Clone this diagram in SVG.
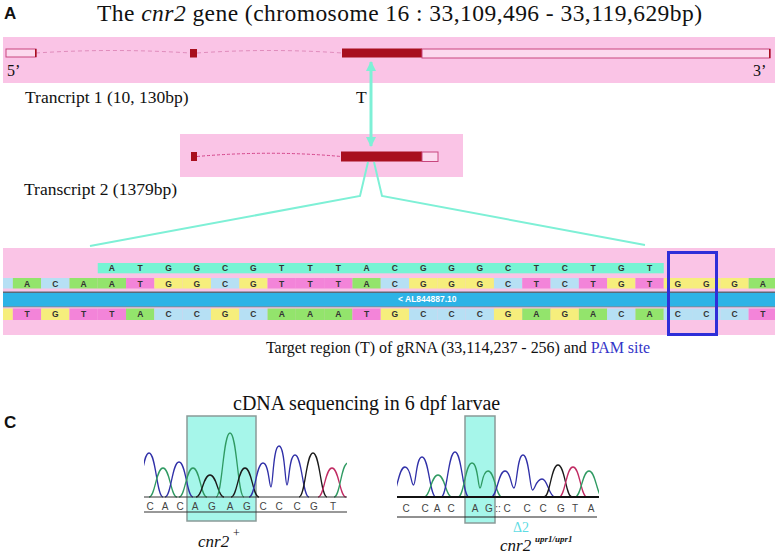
<svg xmlns="http://www.w3.org/2000/svg" width="777" height="556" viewBox="0 0 777 556">
<style>
.serif{font-family:"Liberation Serif","Times New Roman",serif;fill:#111}
.lbl{font-family:"Liberation Sans",Arial,sans-serif;font-weight:bold;fill:#111}
.band{fill:#fac4e6}
.ex{fill:#a80f1e}
.utr{fill:#fcd9ee;stroke:#c8467e;stroke-width:1}
.intr{fill:none;stroke:#e08cbc;stroke-width:1;stroke-dasharray:4 3}
.A{fill:#93e46c}.C{fill:#b6e0f4}.G{fill:#f6ee7c}.T{fill:#f384d9}.R{fill:#76f4d4}
.b{font-family:"Liberation Sans",Arial,sans-serif;font-weight:bold;font-size:8.5px;fill:#333;text-anchor:middle}
.bl{fill:none;stroke:#3030a8;stroke-width:1.3}
.gr{fill:none;stroke:#2f9a62;stroke-width:1.3}
.bk{fill:none;stroke:#1a1a1a;stroke-width:1.3}
.rd{fill:none;stroke:#c02a62;stroke-width:1.3}
.sq{font-family:"Liberation Sans",Arial,sans-serif;font-size:10px;fill:#444;text-anchor:middle}
.cn{stroke:#7ef0d6;fill:none}
</style>
<defs>
<marker id="ah" viewBox="0 0 10 10" refX="9" refY="5" markerWidth="3.5" markerHeight="3.5" orient="auto-start-reverse"><path d="M0,0 L10,5 L0,10 z" fill="#7ef0d6"/></marker>
<clipPath id="clL"><rect x="144" y="400" width="203" height="100"/></clipPath>
<clipPath id="clR"><rect x="397" y="400" width="202" height="100"/></clipPath>
</defs>

<g id="title">
<text class="lbl" x="4" y="19" font-size="17">A</text>
<text class="serif" x="97" y="21" font-size="23.5" textLength="605">The <tspan font-style="italic">cnr2</tspan> gene (chromosome 16 : 33,109,496 - 33,119,629bp)</text>
</g>

<g id="transcript1">
<rect class="band" x="3" y="37" width="772" height="46"/>
<path class="intr" d="M36,53 Q113,48 190,53"/>
<path class="intr" d="M197,53 Q270,48 342,53"/>
<rect class="utr" x="6" y="49" width="30" height="8"/>
<rect class="ex" x="35" y="49" width="1.5" height="8"/>
<rect class="ex" x="190" y="49" width="7" height="8.5"/>
<rect class="ex" x="342" y="48.5" width="80" height="9"/>
<rect class="utr" x="422" y="49" width="348" height="9"/>
<rect class="ex" x="769" y="49" width="1.5" height="9"/>
<text class="serif" x="7" y="76" font-size="16">5’</text>
<text class="serif" x="753" y="76" font-size="16">3’</text>
<text class="serif" x="25" y="103" font-size="17.5">Trancript 1 (10, 130bp)</text>
<text class="serif" x="356" y="103" font-size="17.5">T</text>
</g>

<g id="transcript2">
<rect class="band" x="180" y="134" width="283" height="43"/>
<path fill="none" stroke="#d4458a" stroke-width="1" stroke-dasharray="3 2" d="M197,156.5 Q270,150 341,156.5"/>
<rect class="ex" x="191" y="152" width="6" height="9"/>
<rect class="ex" x="341" y="151.5" width="81" height="10"/>
<rect class="utr" x="422" y="152" width="16" height="9.5"/>
<text class="serif" x="24" y="195" font-size="17.5">Transcript 2 (1379bp)</text>
</g>

<g id="connectors">
<line class="cn" x1="371" y1="146" x2="371" y2="62" stroke-width="3" marker-end="url(#ah)" marker-start="url(#ah)"/>
<polyline class="cn" stroke-width="2" points="368,162 360,196 90,246"/>
<polyline class="cn" stroke-width="2" points="374,162 382,196 645,245"/>
</g>

<g id="sequence">
<rect class="band" x="3" y="248" width="772" height="87"/>
<rect class="R" x="97.75" y="263" width="566" height="10.3"/>
<g>
<text class="b" x="111.9" y="271.3">A</text><text class="b" x="140.2" y="271.3">T</text><text class="b" x="168.5" y="271.3">G</text><text class="b" x="196.8" y="271.3">G</text><text class="b" x="225.1" y="271.3">C</text><text class="b" x="253.4" y="271.3">G</text><text class="b" x="281.7" y="271.3">T</text><text class="b" x="310" y="271.3">T</text><text class="b" x="338.3" y="271.3">T</text><text class="b" x="366.6" y="271.3">A</text><text class="b" x="394.9" y="271.3">C</text><text class="b" x="423.2" y="271.3">G</text><text class="b" x="451.5" y="271.3">G</text><text class="b" x="479.8" y="271.3">G</text><text class="b" x="508.1" y="271.3">C</text><text class="b" x="536.4" y="271.3">T</text><text class="b" x="564.7" y="271.3">C</text><text class="b" x="593" y="271.3">T</text><text class="b" x="621.3" y="271.3">G</text><text class="b" x="649.6" y="271.3">T</text>
</g>
<g id="row2">
<rect class="C" x="3" y="278" width="9.85" height="10.5"/>
<rect class="A" x="12.85" y="278" width="28.3" height="10.5"/><rect class="C" x="41.15" y="278" width="28.3" height="10.5"/><rect class="A" x="69.45" y="278" width="28.3" height="10.5"/><rect class="A" x="97.75" y="278" width="28.3" height="10.5"/><rect class="T" x="126.05" y="278" width="28.3" height="10.5"/><rect class="G" x="154.35" y="278" width="28.3" height="10.5"/><rect class="G" x="182.65" y="278" width="28.3" height="10.5"/><rect class="C" x="210.95" y="278" width="28.3" height="10.5"/><rect class="G" x="239.25" y="278" width="28.3" height="10.5"/><rect class="T" x="267.55" y="278" width="28.3" height="10.5"/><rect class="T" x="295.85" y="278" width="28.3" height="10.5"/><rect class="T" x="324.15" y="278" width="28.3" height="10.5"/><rect class="A" x="352.45" y="278" width="28.3" height="10.5"/><rect class="C" x="380.75" y="278" width="28.3" height="10.5"/><rect class="G" x="409.05" y="278" width="28.3" height="10.5"/><rect class="G" x="437.35" y="278" width="28.3" height="10.5"/><rect class="G" x="465.65" y="278" width="28.3" height="10.5"/><rect class="C" x="493.95" y="278" width="28.3" height="10.5"/><rect class="T" x="522.25" y="278" width="28.3" height="10.5"/><rect class="C" x="550.55" y="278" width="28.3" height="10.5"/><rect class="T" x="578.85" y="278" width="28.3" height="10.5"/><rect class="G" x="607.15" y="278" width="28.3" height="10.5"/><rect class="T" x="635.45" y="278" width="28.3" height="10.5"/><rect class="G" x="663.75" y="278" width="28.3" height="10.5"/><rect class="G" x="692.05" y="278" width="28.3" height="10.5"/><rect class="G" x="720.35" y="278" width="28.3" height="10.5"/><rect class="A" x="748.65" y="278" width="26.35" height="10.5"/>
<text class="b" x="27" y="286.5">A</text><text class="b" x="55.3" y="286.5">C</text><text class="b" x="83.6" y="286.5">A</text><text class="b" x="111.9" y="286.5">A</text><text class="b" x="140.2" y="286.5">T</text><text class="b" x="168.5" y="286.5">G</text><text class="b" x="196.8" y="286.5">G</text><text class="b" x="225.1" y="286.5">C</text><text class="b" x="253.4" y="286.5">G</text><text class="b" x="281.7" y="286.5">T</text><text class="b" x="310" y="286.5">T</text><text class="b" x="338.3" y="286.5">T</text><text class="b" x="366.6" y="286.5">A</text><text class="b" x="394.9" y="286.5">C</text><text class="b" x="423.2" y="286.5">G</text><text class="b" x="451.5" y="286.5">G</text><text class="b" x="479.8" y="286.5">G</text><text class="b" x="508.1" y="286.5">C</text><text class="b" x="536.4" y="286.5">T</text><text class="b" x="564.7" y="286.5">C</text><text class="b" x="593" y="286.5">T</text><text class="b" x="621.3" y="286.5">G</text><text class="b" x="649.6" y="286.5">T</text><text class="b" x="677.9" y="286.5">G</text><text class="b" x="706.2" y="286.5">G</text><text class="b" x="734.5" y="286.5">G</text><text class="b" x="762.8" y="286.5">A</text>
</g>
<rect x="3" y="292" width="772" height="15" fill="#2db3e6"/>
<line x1="3" y1="292.3" x2="775" y2="292.3" stroke="#5a6a78" stroke-width="1.5"/>
<line x1="3" y1="306.8" x2="775" y2="306.8" stroke="#7a8e9c" stroke-width="1"/>
<text x="398" y="302" font-family="Liberation Sans,Arial,sans-serif" font-weight="bold" font-size="8.5" fill="#ffffff">&lt; AL844887.10</text>
<g id="row4">
<rect class="G" x="3" y="308.5" width="9.85" height="11.5"/>
<rect class="T" x="12.85" y="308.5" width="28.3" height="11.5"/><rect class="G" x="41.15" y="308.5" width="28.3" height="11.5"/><rect class="T" x="69.45" y="308.5" width="28.3" height="11.5"/><rect class="T" x="97.75" y="308.5" width="28.3" height="11.5"/><rect class="A" x="126.05" y="308.5" width="28.3" height="11.5"/><rect class="C" x="154.35" y="308.5" width="28.3" height="11.5"/><rect class="C" x="182.65" y="308.5" width="28.3" height="11.5"/><rect class="G" x="210.95" y="308.5" width="28.3" height="11.5"/><rect class="C" x="239.25" y="308.5" width="28.3" height="11.5"/><rect class="A" x="267.55" y="308.5" width="28.3" height="11.5"/><rect class="A" x="295.85" y="308.5" width="28.3" height="11.5"/><rect class="A" x="324.15" y="308.5" width="28.3" height="11.5"/><rect class="T" x="352.45" y="308.5" width="28.3" height="11.5"/><rect class="G" x="380.75" y="308.5" width="28.3" height="11.5"/><rect class="C" x="409.05" y="308.5" width="28.3" height="11.5"/><rect class="C" x="437.35" y="308.5" width="28.3" height="11.5"/><rect class="C" x="465.65" y="308.5" width="28.3" height="11.5"/><rect class="G" x="493.95" y="308.5" width="28.3" height="11.5"/><rect class="A" x="522.25" y="308.5" width="28.3" height="11.5"/><rect class="G" x="550.55" y="308.5" width="28.3" height="11.5"/><rect class="A" x="578.85" y="308.5" width="28.3" height="11.5"/><rect class="C" x="607.15" y="308.5" width="28.3" height="11.5"/><rect class="A" x="635.45" y="308.5" width="28.3" height="11.5"/><rect class="C" x="663.75" y="308.5" width="28.3" height="11.5"/><rect class="C" x="692.05" y="308.5" width="28.3" height="11.5"/><rect class="C" x="720.35" y="308.5" width="28.3" height="11.5"/><rect class="T" x="748.65" y="308.5" width="26.35" height="11.5"/>
<text class="b" x="27" y="317.3">T</text><text class="b" x="55.3" y="317.3">G</text><text class="b" x="83.6" y="317.3">T</text><text class="b" x="111.9" y="317.3">T</text><text class="b" x="140.2" y="317.3">A</text><text class="b" x="168.5" y="317.3">C</text><text class="b" x="196.8" y="317.3">C</text><text class="b" x="225.1" y="317.3">G</text><text class="b" x="253.4" y="317.3">C</text><text class="b" x="281.7" y="317.3">A</text><text class="b" x="310" y="317.3">A</text><text class="b" x="338.3" y="317.3">A</text><text class="b" x="366.6" y="317.3">T</text><text class="b" x="394.9" y="317.3">G</text><text class="b" x="423.2" y="317.3">C</text><text class="b" x="451.5" y="317.3">C</text><text class="b" x="479.8" y="317.3">C</text><text class="b" x="508.1" y="317.3">G</text><text class="b" x="536.4" y="317.3">A</text><text class="b" x="564.7" y="317.3">G</text><text class="b" x="593" y="317.3">A</text><text class="b" x="621.3" y="317.3">C</text><text class="b" x="649.6" y="317.3">A</text><text class="b" x="677.9" y="317.3">C</text><text class="b" x="706.2" y="317.3">C</text><text class="b" x="734.5" y="317.3">C</text><text class="b" x="762.8" y="317.3">T</text>
</g>
<rect id="pam" x="668.5" y="252.5" width="48" height="82" fill="none" stroke="#2e2ed8" stroke-width="3"/>
<text class="serif" x="266" y="353" font-size="16" textLength="384">Target region (T) of gRNA (33,114,237 - 256) and <tspan fill="#3434c8">PAM site</tspan></text>
</g>

<g id="panelC">
<text class="lbl" x="4" y="428" font-size="17">C</text>
<text class="serif" x="233" y="410" font-size="20">cDNA sequencing in 6 dpf larvae</text>
</g>

<g id="chromWT">
<rect x="187" y="416" width="69" height="105" fill="#a6f6ea" stroke="#8a9a98" stroke-width="1.5"/>
<g clip-path="url(#clL)">
<path class="bl" d="M135,497 C141.3,497 142,453 149,453 C156,453 156.7,497 163,497"/>
<path class="gr" d="M149,497 C155.3,497 156,468 163,468 C170,468 170.7,497 177,497"/>
<path class="bl" d="M165,497 C171.3,497 172,462 179,462 C186,462 186.7,497 193,497"/>
<path class="gr" d="M179,497 C185.3,497 186,468 193,468 C200,468 200.7,497 207,497"/>
<path class="bk" d="M196,497 C202.3,497 203,475 210,475 C217,475 217.7,497 224,497"/>
<path class="gr" d="M216,497 C222.3,497 223,433 230,433 C237,433 237.7,497 244,497"/>
<path class="bk" d="M231,497 C237.3,497 238,468 245,468 C252,468 252.7,497 259,497"/>
<path class="bl" d="M249,497 C255.3,497 256,463 263,463 C269,463 269,487 271,487 C273,487 273,446 279,446 C285,446 285,485 287,485 C289,485 289,455 295,455 C302,455 302.7,497 309,497"/>
<path class="bk" d="M299,497 C305.3,497 306,453 313,453 C320,453 320.7,497 327,497"/>
<path class="rd" d="M318,497 C324.3,497 325,468 332,468 C339,468 339.7,497 346,497"/>
<path class="gr" d="M334,497 C340.3,497 341,463 348,463 C355,463 355.7,497 362,497"/>
</g>
<line x1="144" y1="497" x2="347" y2="497" stroke="#333" stroke-width="1"/>
<line x1="144" y1="512" x2="347" y2="512" stroke="#333" stroke-width="1"/>
<text class="sq" x="150" y="509.5">C</text><text class="sq" x="165" y="509.5">A</text><text class="sq" x="180" y="509.5">C</text><text class="sq" x="195" y="509.5" fill="#3b6e8c">A</text><text class="sq" x="212" y="509.5" fill="#3b6e8c">G</text><text class="sq" x="230" y="509.5" fill="#3b6e8c">A</text><text class="sq" x="247" y="509.5" fill="#3b6e8c">G</text><text class="sq" x="263" y="509.5">C</text><text class="sq" x="279" y="509.5">C</text><text class="sq" x="297" y="509.5">C</text><text class="sq" x="314" y="509.5">G</text><text class="sq" x="333" y="509.5">T</text>
<text class="serif" x="198" y="547" font-size="17" font-style="italic">cnr2</text>
<text class="serif" x="233" y="537" font-size="12">+</text>
</g>

<g id="chromMut">
<rect x="465" y="416" width="30" height="107" fill="#a6f6ea" stroke="#8a9a98" stroke-width="1.5"/>
<g clip-path="url(#clR)">
<path class="bl" d="M391,497 C397,497 398,467 405,467 C411,467 411,485 413.5,485 C416,485 416,457 422,457 C429,457 429.7,497 436,497"/>
<path class="gr" d="M424,497 C430.3,497 431,475 438,475 C445,475 445.7,497 452,497"/>
<path class="bl" d="M441,497 C447.3,497 448,452 455,452 C462,452 462.7,497 469,497"/>
<path class="gr" d="M458,497 C464.3,497 465,463 472,463 C478,463 478,488 480,488 C482,488 482,471 488,471 C495,471 495.7,497 502,497"/>
<path class="bl" d="M491,497 C497.3,497 498,471 505,471 C511,471 511,488 514,488 C517,488 517,455 523,455 C529,455 530,490 532.5,490 C535,490 536,479 542,479 C548,479 548.7,497 555,497"/>
<path class="bk" d="M544,497 C550.3,497 551,465 558,465 C565,465 565.7,497 572,497"/>
<path class="rd" d="M559,497 C565.3,497 566,467 573,467 C580,467 580.7,497 587,497"/>
<path class="gr" d="M575,497 C581.3,497 582,471 589,471 C596,471 596.7,497 603,497"/>
</g>
<line x1="397" y1="497" x2="599" y2="497" stroke="#111" stroke-width="2"/>
<line x1="397" y1="517" x2="597" y2="517" stroke="#222" stroke-width="1"/>
<text class="sq" x="406" y="512">C</text><text class="sq" x="425" y="512">C</text><text class="sq" x="437" y="512">A</text><text class="sq" x="451" y="512">C</text><text class="sq" x="475" y="512">A</text><text class="sq" x="489" y="512">G</text><text class="sq" x="498" y="512">::</text><text class="sq" x="507" y="512">C</text><text class="sq" x="527" y="512">C</text><text class="sq" x="543" y="512">C</text><text class="sq" x="561" y="512">G</text><text class="sq" x="575" y="512">T</text><text class="sq" x="591" y="512">A</text>
<text x="513" y="532" font-family="Liberation Serif,serif" font-size="14" fill="#5fdce4">Δ2</text>
<text class="serif" x="500" y="551" font-size="17" font-style="italic">cnr2</text>
<text class="serif" x="535" y="542" font-size="9" font-style="italic" font-weight="bold">upr1/upr1</text>
</g>
</svg>
